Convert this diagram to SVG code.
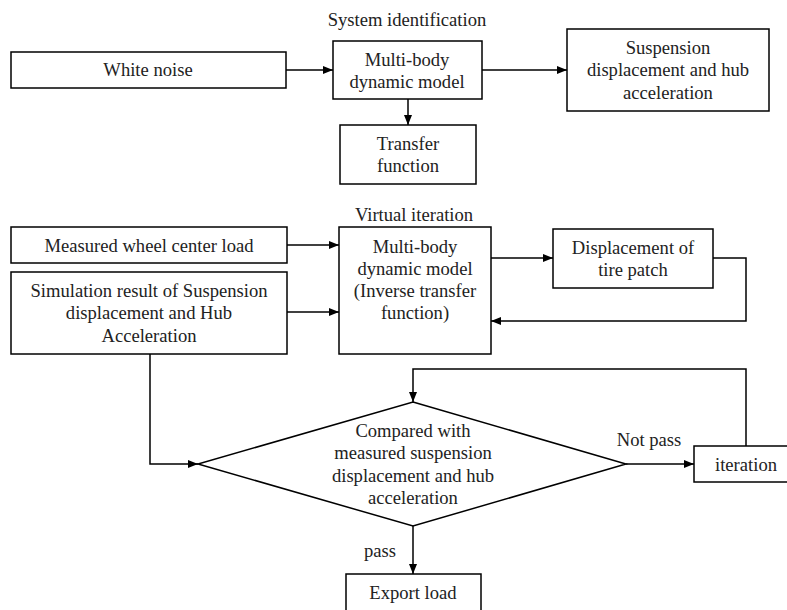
<svg xmlns="http://www.w3.org/2000/svg" width="787" height="610" viewBox="0 0 787 610">
<defs>
<style>
.b{fill:#fff;stroke:#000;stroke-width:1.5}
.t{font-family:"Liberation Serif","Times New Roman",serif;font-size:18.6px;fill:#222;text-anchor:middle}
.c{fill:none;stroke:#000;stroke-width:1.5}
</style>
<marker id="a" viewBox="0 0 10 8" refX="10" refY="4" markerWidth="10" markerHeight="8" markerUnits="userSpaceOnUse" orient="auto">
<path d="M0,0L10,4L0,8z" fill="#000"/>
</marker>
</defs>
<rect width="787" height="610" fill="#fff"/>
<text class="t" x="407" y="26">System identification</text>
<text class="t" x="414" y="221">Virtual iteration</text>
<g id="white-noise"><rect class="b" x="11" y="52" width="275" height="36"/><text class="t" x="148" y="76">White noise</text></g>
<g id="mbd1"><rect class="b" x="333" y="41" width="149" height="58"/><text class="t" x="407" y="66">Multi-body</text><text class="t" x="407" y="88">dynamic model</text></g>
<g id="transfer"><rect class="b" x="340" y="125" width="136" height="59"/><text class="t" x="408" y="150">Transfer</text><text class="t" x="408" y="172">function</text></g>
<g id="susp"><rect class="b" x="567" y="29" width="202" height="82"/><text class="t" x="668" y="54">Suspension</text><text class="t" x="668" y="76">displacement and hub</text><text class="t" x="668" y="99">acceleration</text></g>
<g id="measured"><rect class="b" x="11" y="227" width="276" height="36"/><text class="t" x="149" y="252">Measured wheel center load</text></g>
<g id="sim"><rect class="b" x="11" y="272" width="276" height="82"/><text class="t" x="149" y="297">Simulation result of Suspension</text><text class="t" x="149" y="319">displacement and Hub</text><text class="t" x="149" y="342">Acceleration</text></g>
<g id="mbd2"><rect class="b" x="339" y="227" width="152" height="127"/><text class="t" x="415" y="253">Multi-body</text><text class="t" x="415" y="275">dynamic model</text><text class="t" x="415" y="297">(Inverse transfer</text><text class="t" x="415" y="319">function)</text></g>
<g id="tire"><rect class="b" x="553" y="229" width="160" height="59"/><text class="t" x="633" y="254">Displacement of</text><text class="t" x="633" y="276">tire patch</text></g>
<g id="compare"><path class="b" d="M413,402L626,464L413,526L198,464z"/><text class="t" x="413" y="437">Compared with</text><text class="t" x="413" y="459">measured suspension</text><text class="t" x="413" y="482">displacement and hub</text><text class="t" x="413" y="504">acceleration</text></g>
<g id="iteration"><rect class="b" x="694" y="446" width="104" height="36"/><text class="t" x="746" y="471">iteration</text></g>
<g id="export"><rect class="b" x="346" y="574" width="135" height="45"/><text class="t" x="413" y="599">Export load</text></g>
<g id="connectors">
<path class="c" d="M286,70H333" marker-end="url(#a)"/>
<path class="c" d="M482,70H567" marker-end="url(#a)"/>
<path class="c" d="M408,99V125" marker-end="url(#a)"/>
<path class="c" d="M287,245H339" marker-end="url(#a)"/>
<path class="c" d="M287,312H339" marker-end="url(#a)"/>
<path class="c" d="M491,258H553" marker-end="url(#a)"/>
<path class="c" d="M713,258H746V321H491" marker-end="url(#a)"/>
<path class="c" d="M150,354V464H198" marker-end="url(#a)"/>
<path class="c" d="M746,446V369H413V402" marker-end="url(#a)"/>
<path class="c" d="M626,464H694" marker-end="url(#a)"/>
<path class="c" d="M413,526V574" marker-end="url(#a)"/>
<text class="t" x="649" y="446">Not pass</text>
<text class="t" x="380" y="557">pass</text>
</g>
</svg>
